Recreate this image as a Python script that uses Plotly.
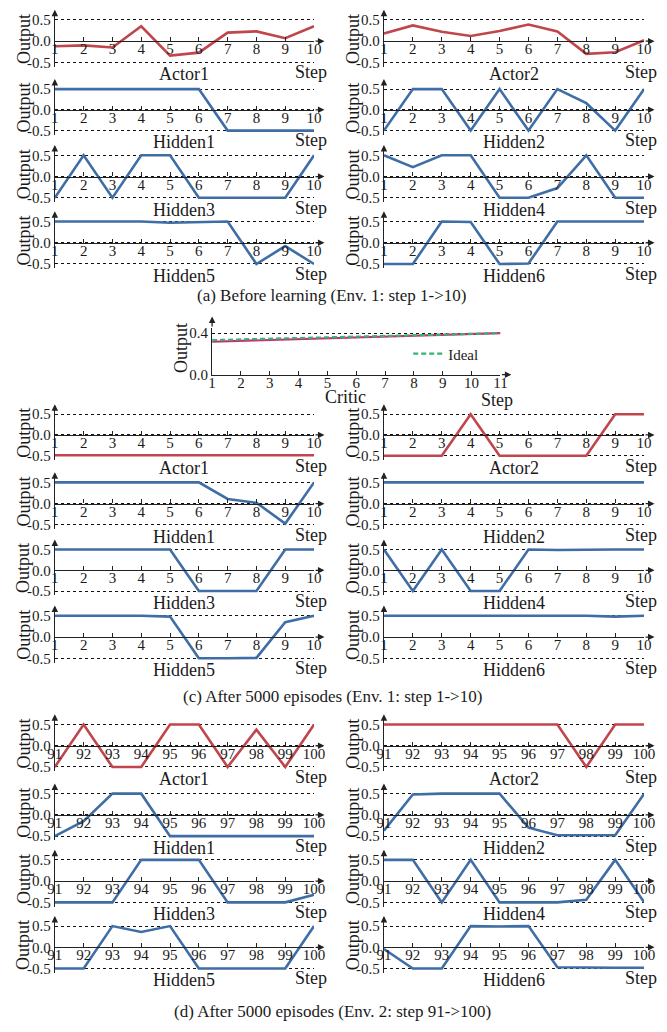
import plotly.graph_objects as go

# ---------------- data ----------------
steps_env1 = [1, 2, 3, 4, 5, 6, 7, 8, 9, 10]
steps_env2 = [91, 92, 93, 94, 95, 96, 97, 98, 99, 100]
critic_steps = [1, 2, 3, 4, 5, 6, 7, 8, 9, 10, 11]

# (a) Before learning
a_actor1 = [-0.12, -0.10, -0.15, 0.35, -0.34, -0.27, 0.20, 0.23, 0.07, 0.35]
a_actor2 = [0.18, 0.37, 0.22, 0.12, 0.24, 0.39, 0.23, -0.30, -0.26, 0.02]
a_hidden1 = [0.5, 0.5, 0.5, 0.5, 0.5, 0.5, -0.5, -0.5, -0.5, -0.5]
a_hidden2 = [-0.5, 0.5, 0.5, -0.5, 0.5, -0.5, 0.5, 0.16, -0.5, 0.5]
a_hidden3 = [-0.5, 0.5, -0.5, 0.5, 0.5, -0.5, -0.5, -0.5, -0.5, 0.5]
a_hidden4 = [0.5, 0.22, 0.5, 0.5, -0.5, -0.5, -0.27, 0.5, -0.5, -0.5]
a_hidden5 = [0.5, 0.5, 0.5, 0.5, 0.47, 0.49, 0.5, -0.5, -0.08, -0.5]
a_hidden6 = [-0.5, -0.5, 0.5, 0.49, -0.5, -0.49, 0.5, 0.5, 0.5, 0.5]

# Critic
critic_output = [0.317, 0.325, 0.333, 0.341, 0.349, 0.358, 0.366, 0.375, 0.383, 0.392, 0.400]
critic_ideal = [0.333, 0.340, 0.346, 0.353, 0.360, 0.367, 0.373, 0.380, 0.387, 0.393, 0.400]

# (c) After 5000 episodes, Env. 1
c_actor1 = [-0.49, -0.49, -0.49, -0.49, -0.49, -0.49, -0.49, -0.49, -0.49, -0.49]
c_actor2 = [-0.5, -0.5, -0.5, 0.5, -0.5, -0.5, -0.5, -0.5, 0.5, 0.5]
c_hidden1 = [0.5, 0.5, 0.5, 0.5, 0.5, 0.5, 0.11, 0.02, -0.47, 0.5]
c_hidden2 = [0.5, 0.5, 0.5, 0.5, 0.5, 0.5, 0.5, 0.5, 0.5, 0.5]
c_hidden3 = [0.5, 0.5, 0.5, 0.5, 0.5, -0.5, -0.5, -0.5, 0.5, 0.5]
c_hidden4 = [0.5, -0.5, 0.5, -0.5, -0.5, 0.5, 0.49, 0.5, 0.5, 0.5]
c_hidden5 = [0.5, 0.5, 0.5, 0.5, 0.48, -0.5, -0.5, -0.49, 0.35, 0.5]
c_hidden6 = [0.5, 0.5, 0.5, 0.5, 0.5, 0.5, 0.5, 0.5, 0.48, 0.5]

# (d) After 5000 episodes, Env. 2
d_actor1 = [-0.5, 0.5, -0.5, -0.5, 0.5, 0.5, -0.5, 0.38, -0.5, 0.5]
d_actor2 = [0.5, 0.5, 0.5, 0.5, 0.5, 0.5, 0.5, -0.5, 0.5, 0.5]
d_hidden1 = [-0.5, -0.15, 0.5, 0.5, -0.5, -0.5, -0.5, -0.5, -0.5, -0.5]
d_hidden2 = [-0.37, 0.48, 0.5, 0.5, 0.5, -0.30, -0.48, -0.48, -0.48, 0.5]
d_hidden3 = [-0.5, -0.5, -0.5, 0.5, 0.5, 0.5, -0.5, -0.5, -0.5, -0.32]
d_hidden4 = [0.5, 0.5, -0.5, 0.5, -0.5, -0.5, -0.5, -0.44, 0.5, -0.5]
d_hidden5 = [-0.5, -0.5, 0.5, 0.36, 0.5, -0.5, -0.5, -0.5, -0.5, 0.5]
d_hidden6 = [-0.04, -0.5, -0.5, 0.5, 0.49, 0.5, -0.47, -0.48, -0.48, -0.48]

y_tickvals = [-0.5, 0.0, 0.5]
y_ticktext = ["-0.5", "0.0", "0.5"]
critic_tickvals = [0.0, 0.4]
critic_ticktext = ["0.0", "0.4"]

captions = [
    "(a) Before learning (Env. 1: step 1->10)",
    "(c) After 5000 episodes (Env. 1: step 1->10)",
    "(d) After 5000 episodes (Env. 2: step 91->100)",
]

# ---------------- styling / layout ----------------
PAGE_OFF = 8            # default body margin of the html page (each side)
W, H = 667 - 2 * PAGE_OFF, 1032 - 2 * PAGE_OFF
RED = "#c0464c"
BLUE = "#3f6ea6"
AX = "#222222"
FONT = "Liberation Serif, Times New Roman, serif"
TICK_SIZE = 15
TITLE_SIZE = 18
CAPTION_SIZE = 17

COL_X = [(48, 315), (387, 655)]
ROW_Y = {
    "a": [(16, 59), (86, 128), (153, 196), (220, 263)],
    "c": [(415, 457), (484, 527), (552, 594), (619, 662)],
    "d": [(729, 772), (799, 842), (866, 909), (933, 976)],
}

panels = [
    ("a", 0, 0, "Actor1", steps_env1, a_actor1, RED),
    ("a", 1, 0, "Actor2", steps_env1, a_actor2, RED),
    ("a", 0, 1, "Hidden1", steps_env1, a_hidden1, BLUE),
    ("a", 1, 1, "Hidden2", steps_env1, a_hidden2, BLUE),
    ("a", 0, 2, "Hidden3", steps_env1, a_hidden3, BLUE),
    ("a", 1, 2, "Hidden4", steps_env1, a_hidden4, BLUE),
    ("a", 0, 3, "Hidden5", steps_env1, a_hidden5, BLUE),
    ("a", 1, 3, "Hidden6", steps_env1, a_hidden6, BLUE),
    ("c", 0, 0, "Actor1", steps_env1, c_actor1, RED),
    ("c", 1, 0, "Actor2", steps_env1, c_actor2, RED),
    ("c", 0, 1, "Hidden1", steps_env1, c_hidden1, BLUE),
    ("c", 1, 1, "Hidden2", steps_env1, c_hidden2, BLUE),
    ("c", 0, 2, "Hidden3", steps_env1, c_hidden3, BLUE),
    ("c", 1, 2, "Hidden4", steps_env1, c_hidden4, BLUE),
    ("c", 0, 3, "Hidden5", steps_env1, c_hidden5, BLUE),
    ("c", 1, 3, "Hidden6", steps_env1, c_hidden6, BLUE),
    ("d", 0, 0, "Actor1", steps_env2, d_actor1, RED),
    ("d", 1, 0, "Actor2", steps_env2, d_actor2, RED),
    ("d", 0, 1, "Hidden1", steps_env2, d_hidden1, BLUE),
    ("d", 1, 1, "Hidden2", steps_env2, d_hidden2, BLUE),
    ("d", 0, 2, "Hidden3", steps_env2, d_hidden3, BLUE),
    ("d", 1, 2, "Hidden4", steps_env2, d_hidden4, BLUE),
    ("d", 0, 3, "Hidden5", steps_env2, d_hidden5, BLUE),
    ("d", 1, 3, "Hidden6", steps_env2, d_hidden6, BLUE),
]


def px(xp):
    return (xp - PAGE_OFF) / W


def py(yp):
    return 1 - (yp - PAGE_OFF) / H


fig = go.Figure()
layout = {}
annotations = []


def txt(text, xp, yp, size=TITLE_SIZE, angle=0, xanchor="center"):
    annotations.append(dict(
        text=text, x=px(xp), y=py(yp), xref="paper", yref="paper",
        showarrow=False, xanchor=xanchor, yanchor="middle", textangle=angle,
        font=dict(family=FONT, size=size, color="#1a1a1a"),
    ))


def arrow(xr, yr, x_head, y_head, x_tail, y_tail):
    annotations.append(dict(
        text="", x=x_head, y=y_head, ax=x_tail, ay=y_tail,
        xref=xr, yref=yr, axref=xr, ayref=yr, showarrow=True,
        arrowhead=2, arrowsize=1, arrowwidth=1.3, arrowcolor=AX, standoff=0,
    ))


tickfont = dict(family=FONT, size=TICK_SIZE, color="#1a1a1a")

for k, (grp, col, row, title, steps, vals, color) in enumerate(panels, start=1):
    sfx = "" if k == 1 else str(k)
    xr, yr = "x" + sfx, "y" + sfx
    x0, x1 = COL_X[col]
    y05, ym05 = ROW_Y[grp][row]
    U = ym05 - y05
    yzero = (y05 + ym05) / 2
    top = y05 - 0.1 * U
    bot = ym05 + 0.1 * U

    fig.add_trace(go.Scatter(
        x=steps, y=vals, mode="lines", line=dict(color=color, width=2.6),
        xaxis=xr, yaxis=yr, showlegend=False, hoverinfo="x+y",
    ))
    layout["xaxis" + sfx] = dict(
        domain=[px(x0), px(x1)], range=[steps[0], steps[-1]],
        anchor="free", position=py(yzero),
        showline=True, linecolor=AX, linewidth=1.3,
        ticks="inside", ticklen=4, tickwidth=1.2, tickcolor=AX,
        tickvals=steps, ticktext=[str(s) for s in steps],
        tickfont=tickfont, ticklabelstandoff=-6,
        showgrid=False, zeroline=False, fixedrange=True,
    )
    layout["yaxis" + sfx] = dict(
        domain=[py(bot), py(top)], range=[-0.6, 0.6], anchor=xr,
        showline=True, linecolor=AX, linewidth=1.3,
        tickvals=y_tickvals, ticktext=y_ticktext, ticks="",
        tickfont=tickfont,
        showgrid=True, gridcolor="#111111", gridwidth=1, griddash="3px,3px",
        zeroline=False, fixedrange=True,
    )
    arrow(xr, yr, steps[-1] + 0.36, 0, steps[-1], 0)
    arrow(xr, yr, steps[0], 0.74, steps[0], 0.6)
    txt(title, (x0 + x1) / 2, ym05 + 12)
    txt("Step", x1 - 3, ym05 + 10)
    txt("Output", x0 - 32, yzero - 2, angle=-90)

# ---------------- critic ----------------
k = len(panels) + 1
sfx = str(k)
xr, yr = "x" + sfx, "y" + sfx
cx0, cx1 = 210, 507
cy0 = 375
cunit = (375 - 333) / 0.4
ctop = cy0 - 0.45 * cunit

fig.add_trace(go.Scatter(
    x=critic_steps, y=critic_output, mode="lines",
    line=dict(color="#cf2b78", width=2.2), xaxis=xr, yaxis=yr,
    showlegend=False, name="Output",
))
fig.add_trace(go.Scatter(
    x=critic_steps, y=critic_ideal, mode="lines",
    line=dict(color="#33b56e", width=2.2, dash="5px,3px"), xaxis=xr, yaxis=yr,
    showlegend=True, name="Ideal",
))
layout["xaxis" + sfx] = dict(
    domain=[px(cx0), px(cx1)], range=[1, 11], anchor=yr,
    showline=True, linecolor=AX, linewidth=1.3,
    ticks="inside", ticklen=4, tickwidth=1.2, tickcolor=AX,
    tickvals=critic_steps, ticktext=[str(s) for s in critic_steps],
    tickfont=tickfont, ticklabelstandoff=-6,
    showgrid=False, zeroline=False, fixedrange=True,
)
layout["yaxis" + sfx] = dict(
    domain=[py(cy0), py(ctop)], range=[0, 0.45], anchor=xr,
    showline=True, linecolor=AX, linewidth=1.3,
    tickvals=critic_tickvals, ticktext=critic_ticktext, ticks="",
    tickfont=tickfont,
    showgrid=True, gridcolor="#111111", gridwidth=1, griddash="3px,3px",
    zeroline=False, fixedrange=True,
)
arrow(xr, yr, 11.38, 0, 11, 0)
arrow(xr, yr, 1, 0.56, 1, 0.45)
txt("Critic", 347, 398)
txt("Step", 503, 401)
txt("Output", 178, 348, angle=-90)

# captions
txt(captions[0], 334, 295, size=CAPTION_SIZE)
txt(captions[1], 334, 701, size=CAPTION_SIZE)
txt(captions[2], 334, 1019, size=CAPTION_SIZE)

fig.update_layout(
    width=W, height=H, margin=dict(l=0, r=0, t=0, b=0),
    paper_bgcolor="white", plot_bgcolor="white",
    annotations=annotations,
    legend=dict(x=px(412), y=py(354), xanchor="left", yanchor="middle",
                bgcolor="rgba(0,0,0,0)", borderwidth=0,
                font=dict(family=FONT, size=TICK_SIZE, color="#1a1a1a")),
    **layout,
)

fig.write_html("out.html")
